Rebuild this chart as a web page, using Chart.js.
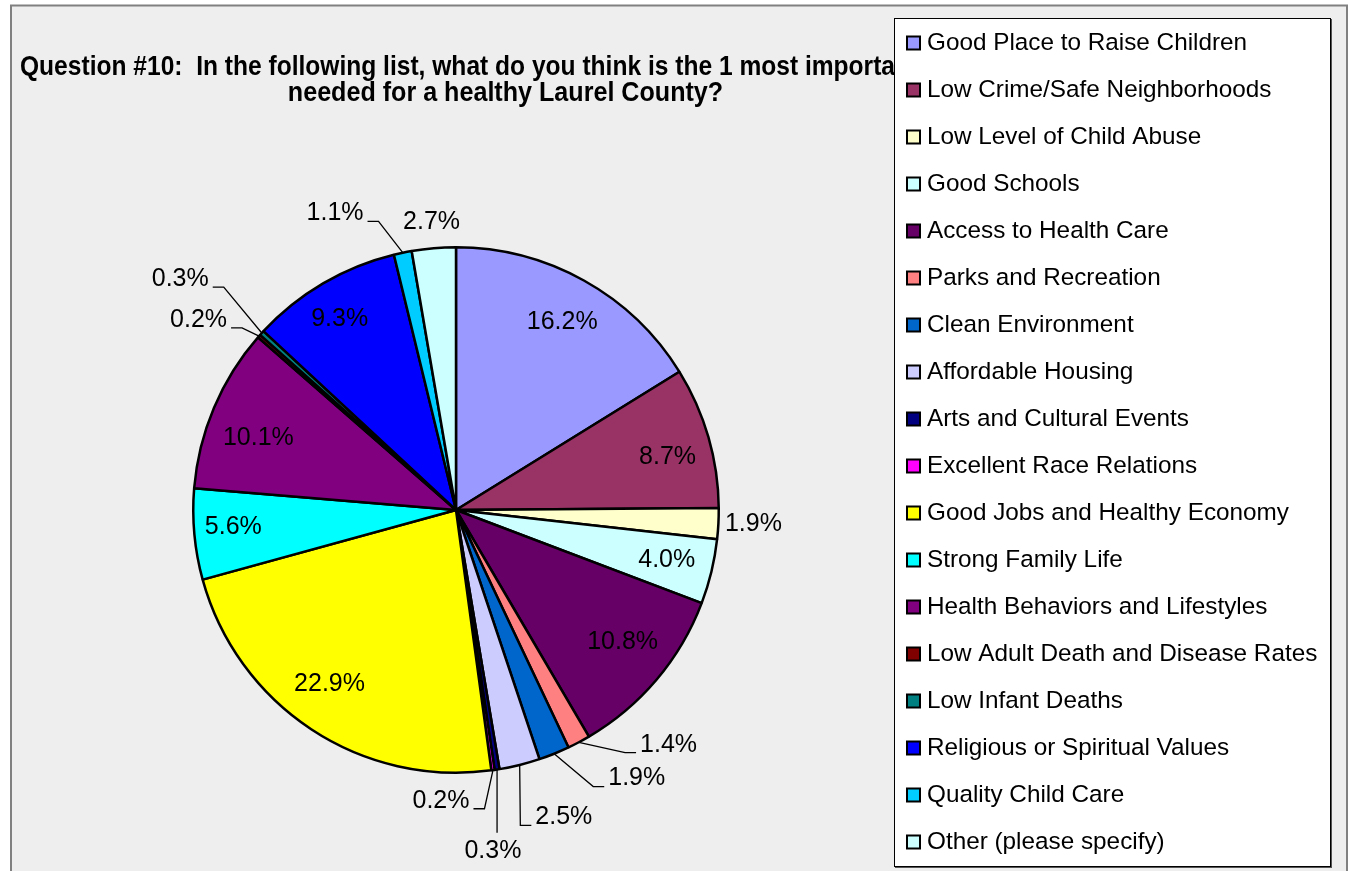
<!DOCTYPE html>
<html>
<head>
<meta charset="utf-8">
<script src="https://cdn.jsdelivr.net/npm/chart.js@4.4.0/dist/chart.umd.min.js"></script>
<style>
  html, body { margin: 0; padding: 0; background: #fff; }
  canvas { display: block; }
</style>
</head>
<body>
<canvas id="chart" width="1351" height="871"></canvas>
<script>
const categories = [
    'Good Place to Raise Children',
    'Low Crime/Safe Neighborhoods',
    'Low Level of Child Abuse',
    'Good Schools',
    'Access to Health Care',
    'Parks and Recreation',
    'Clean Environment',
    'Affordable Housing',
    'Arts and Cultural Events',
    'Excellent Race Relations',
    'Good Jobs and Healthy Economy',
    'Strong Family Life',
    'Health Behaviors and Lifestyles',
    'Low Adult Death and Disease Rates',
    'Low Infant Deaths',
    'Religious or Spiritual Values',
    'Quality Child Care',
    'Other (please specify)'
];
const percents = [16.2, 8.7, 1.9, 4.0, 10.8, 1.4, 1.9, 2.5, 0.3, 0.2, 22.9, 5.6, 10.1, 0.2, 0.3, 9.3, 1.1, 2.7];
const sliceColors = [
    '#9999FF', '#993366', '#FFFFCC', '#CCFFFF', '#660066', '#FF8080',
    '#0066CC', '#CCCCFF', '#000080', '#FF00FF', '#FFFF00', '#00FFFF',
    '#800080', '#800000', '#008080', '#0000FF', '#00CCFF', '#CCFFFF'
];
const titleLines = [
    'Question #10:  In the following list, what do you think is the 1 most important factor',
    'needed for a healthy Laurel County?'
];

// where each % label sits: r = share of radius, da = degrees off slice middle,
// lead = leader line style (text right/left of the elbow, or straight below)
const labelPlace = [
    { r: 0.82, da: 0.4 },
    { r: 0.83, da: 2 },
    { r: 1.133, da: -0.3 },
    { r: 0.824, da: -0.3 },
    { r: 0.81, da: -1.7 },
    { r: 1.205, da: -14.3, lead: 'right' },
    { r: 1.232, da: -12, lead: 'right' },
    { r: 1.24, da: -5.3, lead: 'right' },
    { r: 1.304, da: 2.8, lead: 'below' },
    { r: 1.108, da: 11.05, lead: 'left' },
    { r: 0.82, da: 2.5 },
    { r: 0.85, da: 0.8 },
    { r: 0.80, da: -3 },
    { r: 1.218, da: -5.0, lead: 'left' },
    { r: 1.369, da: -2.4, lead: 'left' },
    { r: 0.85, da: -1 },
    { r: 1.219, da: -10.5, lead: 'left' },
    { r: 1.10, da: 0 }
];

const SANS = '"Liberation Sans", Arial, sans-serif';

// grey plot background, frame and the (partly hidden) title
const backdrop = {
    id: 'backdrop',
    beforeDraw(chart) {
        const ctx = chart.ctx;
        ctx.save();
        ctx.fillStyle = '#fff';
        ctx.fillRect(0, 0, chart.width, chart.height);
        ctx.fillStyle = '#eeeeee';
        ctx.fillRect(11, 5, 1336, chart.height);
        ctx.strokeStyle = '#808080';
        ctx.lineWidth = 2;
        ctx.strokeRect(11, 5.5, 1336, chart.height + 20);

        // condensed bold title
        ctx.fillStyle = '#000';
        ctx.font = 'bold 27px ' + SANS;
        ctx.textBaseline = 'alphabetic';
        ctx.save();
        ctx.translate(20, 75);
        ctx.scale(0.91, 1);
        ctx.textAlign = 'left';
        ctx.fillText(titleLines[0], 0, 0);
        ctx.restore();
        ctx.save();
        ctx.translate(505.5, 101);
        ctx.scale(0.93, 1);
        ctx.textAlign = 'center';
        ctx.fillText(titleLines[1], 0, 0);
        ctx.restore();
        ctx.restore();
    }
};

const pieLabels = {
    id: 'pieLabels',
    afterDatasetsDraw(chart) {
        const ctx = chart.ctx;
        const arcs = chart.getDatasetMeta(0).data;
        ctx.save();
        ctx.font = '25px ' + SANS;
        ctx.fillStyle = '#000';
        ctx.strokeStyle = '#000';
        ctx.lineWidth = 1.3;
        ctx.textBaseline = 'middle';
        ctx.textAlign = 'center';
        arcs.forEach((arc, i) => {
            const { x, y, startAngle, endAngle, outerRadius } =
                arc.getProps(['x', 'y', 'startAngle', 'endAngle', 'outerRadius'], true);
            const p = labelPlace[i];
            const mid = (startAngle + endAngle) / 2;
            const a = mid + p.da * Math.PI / 180;
            const tx = x + Math.cos(a) * outerRadius * p.r;
            const ty = y + Math.sin(a) * outerRadius * p.r;
            const text = percents[i].toFixed(1) + '%';
            const w = ctx.measureText(text).width;
            if (p.lead) {
                const ex = x + Math.cos(mid) * outerRadius;
                const ey = y + Math.sin(mid) * outerRadius;
                ctx.beginPath();
                ctx.moveTo(ex, ey);
                if (p.lead === 'below') {
                    ctx.lineTo(ex, ty - 18);
                } else {
                    const dir = p.lead === 'right' ? -1 : 1;
                    const end = tx + dir * (w / 2 + 4);
                    const ly = ty + 8;
                    ctx.lineTo(end + dir * 11, ly);
                    ctx.lineTo(end, ly);
                }
                ctx.stroke();
            }
            ctx.fillText(text, tx, ty);
        });
        ctx.restore();
    }
};

// legend box on the right
const sideLegend = {
    id: 'sideLegend',
    afterDraw(chart) {
        const ctx = chart.ctx;
        ctx.save();
        ctx.fillStyle = '#fff';
        ctx.fillRect(894, 18, 436, 848);
        ctx.strokeStyle = '#555';
        ctx.lineWidth = 2;
        ctx.beginPath();
        ctx.moveTo(1331, 19);
        ctx.lineTo(1331, 867);
        ctx.lineTo(895, 867);
        ctx.stroke();
        ctx.strokeStyle = '#000';
        ctx.lineWidth = 1;
        ctx.strokeRect(894.5, 18.5, 436, 848);

        ctx.font = '24.3px ' + SANS;
        ctx.textBaseline = 'middle';
        ctx.textAlign = 'left';
        categories.forEach((name, i) => {
            const cy = 43 + i * 47;
            ctx.fillStyle = sliceColors[i];
            ctx.fillRect(907, cy - 6.5, 13, 13);
            ctx.strokeStyle = '#000';
            ctx.lineWidth = 2;
            ctx.strokeRect(907, cy - 6.5, 13, 13);
            ctx.fillStyle = '#000';
            ctx.fillText(name, 927, cy);
        });
        ctx.restore();
    }
};

const ctx = document.getElementById('chart').getContext('2d');
new Chart(ctx, {
    type: 'pie',
    data: {
        labels: categories,
        datasets: [{
            data: percents,
            backgroundColor: sliceColors,
            borderColor: '#000',
            borderWidth: 2.5
        }]
    },
    options: {
        responsive: false,
        animation: false,
        layout: {
            padding: { left: 192, right: 631, top: 246, bottom: 97 }
        },
        plugins: {
            legend: { display: false },
            title: { display: false },
            tooltip: { enabled: false }
        }
    },
    plugins: [backdrop, pieLabels, sideLegend]
});
</script>
</body>
</html>
